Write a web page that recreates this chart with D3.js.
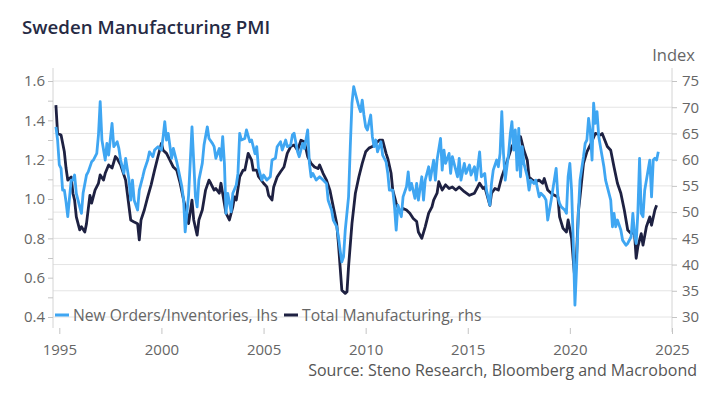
<!DOCTYPE html>
<html>
<head>
<meta charset="utf-8">
<script src="https://cdn.jsdelivr.net/npm/d3@7"></script>
<style>
  body { margin: 0; background: #fff; }
  svg { font-family: "Open Sans", "Noto Sans", sans-serif; }
</style>
</head>
<body>
<svg id="chart" width="717" height="395"></svg>
<script>
// New Orders/Inventories ratio (lhs)
const newOrdersInv = [
  ["1994-11",1.367],["1994-12",1.30],["1995-01",1.173],["1995-02",1.156],["1995-03",1.045],["1995-04",1.045],
  ["1995-05",0.986],["1995-06",0.91],["1995-08",1.096],["1995-09",1.096],["1995-10",1.122],["1995-11",1.029],
  ["1996-01",0.96],["1996-02",0.927],["1996-03",1.029],["1996-05",1.122],["1996-06",1.138],["1996-08",1.189],
  ["1996-09",1.198],["1996-11",1.232],["1996-12",1.325],["1997-01",1.495],["1997-02",1.30],["1997-04",1.198],
  ["1997-05",1.283],["1997-06",1.223],["1997-08",1.385],["1997-09",1.266],["1997-11",1.291],["1997-12",1.257],
  ["1998-01",1.198],["1998-03",1.13],["1998-04",1.207],["1998-06",1.096],["1998-07",0.994],["1998-08",1.096],
  ["1998-09",0.994],["1998-11",0.944],["1998-12",1.045],["1999-02",1.113],["1999-03",1.147],["1999-05",1.198],
  ["1999-06",1.24],["1999-08",1.215],["1999-09",1.249],["1999-11",1.266],["2000-01",1.249],["2000-02",1.317],
  ["2000-03",1.393],["2000-04",1.30],["2000-05",1.334],["2000-07",1.207],["2000-08",1.257],["2000-10",1.189],
  ["2000-11",1.147],["2001-01",1.062],["2001-02",0.994],["2001-03",0.833],["2001-04",0.927],["2001-05",1.02],
  ["2001-07",1.367],["2001-09",1.011],["2001-10",0.96],["2001-11",1.096],["2002-01",1.181],["2002-02",1.274],
  ["2002-04",1.367],["2002-05",1.308],["2002-07",1.283],["2002-08",1.266],["2002-09",1.207],["2002-11",1.257],
  ["2002-12",1.198],["2003-01",1.317],["2003-02",1.181],["2003-03",0.927],["2003-04",1.029],["2003-06",0.935],
  ["2003-07",1.029],["2003-09",1.071],["2003-10",1.13],["2003-11",1.334],["2003-12",1.30],["2004-02",1.308],
  ["2004-03",1.351],["2004-05",1.291],["2004-06",1.30],["2004-08",1.23],["2004-09",1.266],["2004-10",1.16],
  ["2004-12",1.096],["2005-01",1.122],["2005-03",1.096],["2005-05",1.113],["2005-06",1.198],["2005-08",1.207],
  ["2005-09",1.266],["2005-11",1.291],["2005-12",1.249],["2006-02",1.30],["2006-03",1.266],["2006-05",1.274],
  ["2006-06",1.325],["2006-07",1.334],["2006-09",1.24],["2006-10",1.215],["2006-12",1.283],["2007-01",1.257],
  ["2007-03",1.351],["2007-04",1.181],["2007-05",1.113],["2007-06",1.13],["2007-08",1.096],["2007-10",1.113],
  ["2007-12",1.096],["2008-02",1.079],["2008-03",0.994],["2008-05",0.944],["2008-06",0.893],["2008-08",0.859],
  ["2008-09",0.808],["2008-10",0.74],["2008-11",0.68],["2008-12",0.706],["2009-01",0.842],["2009-03",1.011],
  ["2009-04",1.266],["2009-05",1.487],["2009-06",1.571],["2009-07",1.537],["2009-09",1.469],["2009-10",1.444],
  ["2009-11",1.503],["2009-12",1.427],["2010-01",1.367],["2010-02",1.351],["2010-04",1.427],["2010-05",1.317],
  ["2010-06",1.266],["2010-07",1.30],["2010-08",1.24],["2010-10",1.291],["2010-11",1.223],["2011-01",1.189],
  ["2011-02",1.13],["2011-03",1.045],["2011-05",1.045],["2011-06",0.96],["2011-07",0.842],["2011-08",0.969],
  ["2011-10",0.91],["2011-11",1.011],["2012-01",1.062],["2012-02",1.138],["2012-03",1.045],["2012-04",1.079],
  ["2012-06",1.003],["2012-07",1.079],["2012-08",0.994],["2012-10",1.113],["2012-11",0.994],["2012-12",1.096],
  ["2013-02",1.164],["2013-03",1.096],["2013-05",1.198],["2013-06",1.096],["2013-07",1.198],["2013-09",1.308],
  ["2013-10",1.147],["2013-11",1.249],["2013-12",1.181],["2014-02",1.232],["2014-03",1.13],["2014-04",1.215],
  ["2014-06",1.147],["2014-07",1.113],["2014-08",1.207],["2014-09",1.096],["2014-11",1.181],["2014-12",1.13],
  ["2015-02",1.173],["2015-03",1.122],["2015-05",1.164],["2015-06",1.096],["2015-08",1.24],["2015-09",1.113],
  ["2015-11",1.13],["2015-12",1.045],["2016-02",0.969],["2016-03",1.079],["2016-04",1.147],["2016-06",1.198],
  ["2016-07",1.164],["2016-08",1.232],["2016-09",1.444],["2016-10",1.232],["2016-11",1.096],["2017-01",1.232],
  ["2017-02",1.334],["2017-03",1.393],["2017-04",1.249],["2017-05",1.351],["2017-06",1.147],["2017-07",1.359],
  ["2017-08",1.113],["2017-09",1.266],["2017-10",1.181],["2017-12",1.113],["2018-01",1.045],["2018-02",1.096],
  ["2018-04",1.079],["2018-05",1.096],["2018-07",1.011],["2018-08",1.029],["2018-10",1.011],["2018-11",0.994],
  ["2018-12",0.893],["2019-02",0.994],["2019-03",1.045],["2019-05",1.156],["2019-06",1.011],["2019-07",0.978],
  ["2019-08",0.96],["2019-10",0.944],["2019-11",0.927],["2019-12",1.113],["2020-01",1.181],["2020-02",1.045],
  ["2020-03",0.791],["2020-04",0.46],["2020-05",0.655],["2020-06",0.927],["2020-07",1.096],["2020-09",1.215],
  ["2020-10",1.283],["2020-11",1.30],["2020-12",1.41],["2021-01",1.342],["2021-02",1.198],["2021-03",1.487],
  ["2021-04",1.385],["2021-05",1.444],["2021-06",1.317],["2021-08",1.215],["2021-09",1.164],["2021-10",1.096],
  ["2021-11",1.062],["2022-01",0.994],["2022-02",0.859],["2022-03",0.927],["2022-04",0.859],["2022-05",0.893],
  ["2022-07",0.842],["2022-08",0.791],["2022-10",0.765],["2022-11",0.774],["2023-01",0.808],["2023-02",0.927],
  ["2023-03",0.825],["2023-04",0.774],["2023-05",0.927],["2023-06",1.207],["2023-07",0.927],["2023-08",0.91],
  ["2023-09",1.045],["2023-11",1.147],["2023-12",1.198],["2024-01",1.011],["2024-02",1.198],["2024-03",1.207],
  ["2024-04",1.198],["2024-05",1.24]
];

// Total Manufacturing PMI (rhs)
const totalMfg = [
  ["1994-11",70.4],["1994-12",65.0],["1995-02",64.7],["1995-04",61.5],["1995-05",58.4],["1995-06",56.1],
  ["1995-08",56.7],["1995-09",53.6],["1995-10",52.3],["1995-11",49.1],["1996-01",46.6],["1996-02",47.2],
  ["1996-04",46.2],["1996-05",47.8],["1996-07",53.2],["1996-08",51.7],["1996-10",54.2],["1996-12",55.5],
  ["1997-01",57.1],["1997-03",56.1],["1997-04",57.4],["1997-06",59.0],["1997-08",58.4],["1997-10",60.6],
  ["1997-11",60.2],["1998-01",59.0],["1998-03",57.1],["1998-04",56.1],["1998-07",48.5],["1998-09",48.1],
  ["1998-11",47.8],["1998-12",44.7],["1999-01",48.5],["1999-03",50.4],["1999-05",52.9],["1999-07",55.2],
  ["1999-09",58.0],["1999-11",60.6],["2000-01",63.1],["2000-02",61.8],["2000-04",61.2],["2000-06",59.9],
  ["2000-08",58.6],["2000-10",58.0],["2000-12",55.5],["2001-02",52.3],["2001-04",49.8],["2001-05",47.8],
  ["2001-07",52.3],["2001-08",48.5],["2001-10",45.6],["2001-11",48.5],["2002-01",50.4],["2002-03",54.2],
  ["2002-05",56.1],["2002-06",55.5],["2002-08",54.2],["2002-09",54.5],["2002-11",53.6],["2002-12",55.5],
  ["2003-03",49.8],["2003-05",48.5],["2003-07",51.0],["2003-08",52.9],["2003-09",52.3],["2003-11",56.7],
  ["2004-01",58.0],["2004-02",58.0],["2004-04",61.2],["2004-06",59.9],["2004-07",58.0],["2004-09",58.0],
  ["2004-10",56.8],["2005-01",55.5],["2005-03",54.8],["2005-04",53.2],["2005-06",52.3],["2005-07",54.8],
  ["2005-09",56.7],["2005-11",57.7],["2006-01",58.6],["2006-03",61.2],["2006-05",62.5],["2006-07",62.8],
  ["2006-09",61.8],["2006-11",63.7],["2007-01",63.4],["2007-03",60.6],["2007-05",59.3],["2007-07",58.6],
  ["2007-09",58.3],["2007-10",59.0],["2007-12",57.4],["2008-02",56.1],["2008-04",54.2],["2008-06",51.0],
  ["2008-08",47.8],["2008-09",44.0],["2008-10",39.6],["2008-11",35.1],["2009-01",34.5],["2009-02",34.8],
  ["2009-03",39.6],["2009-05",47.8],["2009-07",53.6],["2009-09",56.7],["2009-11",59.3],["2010-01",61.5],
  ["2010-03",62.2],["2010-05",62.5],["2010-09",63.7],["2010-11",63.7],["2011-01",61.2],["2011-02",60.2],
  ["2011-04",57.4],["2011-05",54.2],["2011-07",51.7],["2011-09",50.1],["2011-11",50.7],["2012-01",50.4],
  ["2012-03",49.8],["2012-05",48.8],["2012-07",48.2],["2012-08",46.2],["2012-10",45.0],["2012-12",47.2],
  ["2013-02",49.8],["2013-04",51.0],["2013-05",52.3],["2013-07",53.6],["2013-08",55.8],["2013-10",54.2],
  ["2013-12",55.2],["2014-02",54.5],["2014-04",54.8],["2014-06",54.2],["2014-08",54.8],["2014-11",53.9],
  ["2015-02",53.2],["2015-05",53.6],["2015-08",55.5],["2015-10",54.5],["2015-11",54.8],["2016-02",51.3],
  ["2016-03",53.6],["2016-05",54.5],["2016-07",54.2],["2016-09",56.7],["2016-11",58.6],["2017-01",60.6],
  ["2017-03",62.5],["2017-06",64.1],["2017-08",64.4],["2017-10",61.8],["2017-12",59.9],["2018-01",56.7],
  ["2018-03",56.1],["2018-05",55.8],["2018-07",56.1],["2018-09",55.5],["2018-10",56.4],["2018-12",54.2],
  ["2019-02",53.6],["2019-04",53.2],["2019-06",52.9],["2019-07",49.1],["2019-09",46.9],["2019-11",46.2],
  ["2019-12",48.5],["2020-02",45.0],["2020-03",41.0],["2020-04",37.0],["2020-05",42.0],["2020-06",50.0],
  ["2020-07",52.9],["2020-09",59.3],["2020-11",61.5],["2021-01",62.8],["2021-04",65.0],["2021-07",64.7],
  ["2021-08",65.0],["2021-11",62.5],["2022-01",61.8],["2022-03",58.6],["2022-05",55.5],["2022-07",53.6],
  ["2022-09",50.4],["2022-11",46.6],["2023-01",45.9],["2023-03",46.2],["2023-04",41.2],["2023-05",43.4],
  ["2023-07",45.9],["2023-08",43.7],["2023-10",47.2],["2023-12",49.1],["2024-01",47.5],["2024-03",50.4],
  ["2024-04",51.3]
];

const yearTicks = [1995, 2000, 2005, 2010, 2015, 2020, 2025];
const lhsTicks = [0.4, 0.6, 0.8, 1.0, 1.2, 1.4, 1.6];
const lhsMinor = [0.5, 0.7, 0.9, 1.1, 1.3, 1.5];
const rhsTicks = [30, 35, 40, 45, 50, 55, 60, 65, 70, 75];

const blue = '#3fa6f2';
const navy = '#1e2142';
const textGrey = '#666666';

const svg = d3.select('#chart');
const parse = d3.timeParse('%Y-%m');

let plotLeft = 53, plotRight = 672, plotTop = 81, plotBottom = 317;

let x = d3.scaleTime()
    .domain([new Date(1994, 8, 10), new Date(2025, 0, 1)])
    .range([plotLeft, plotRight]);
let yL = d3.scaleLinear().domain([0.4, 1.6]).range([plotBottom, plotTop]);
let yR = d3.scaleLinear().domain([30, 75]).range([plotBottom, plotTop]);

// title
svg.append('text')
    .attr('x', 22).attr('y', 34)
    .attr('font-size', 18.7).attr('font-weight', 600)
    .attr('fill', '#262a44')
    .text('Sweden Manufacturing PMI');

svg.append('text')
    .attr('x', 695).attr('y', 61)
    .attr('text-anchor', 'end')
    .attr('font-size', 16.5).attr('fill', textGrey)
    .text('Index');

// gridlines (rhs)
svg.append('g')
    .selectAll('line')
    .data(rhsTicks)
    .enter().append('line')
    .attr('x1', plotLeft).attr('x2', plotRight)
    .attr('y1', d => yR(d)).attr('y2', d => yR(d))
    .attr('stroke', '#e4e4e4').attr('stroke-width', 1);

// axis lines
svg.append('line').attr('x1', plotLeft).attr('x2', plotLeft).attr('y1', 68).attr('y2', 328)
    .attr('stroke', '#d4d4d4');
svg.append('line').attr('x1', plotRight).attr('x2', plotRight).attr('y1', 68).attr('y2', 332)
    .attr('stroke', '#d4d4d4');

function styleAxis(g) {
    g.select('.domain').remove();
    g.selectAll('.tick line').attr('stroke', '#c4c4c4');
    g.selectAll('.tick text')
        .attr('fill', textGrey)
        .attr('font-size', 15)
        .attr('font-family', '"Open Sans", "Noto Sans", sans-serif');
}

// left axis
svg.append('g')
    .attr('transform', `translate(${plotLeft}, 0)`)
    .call(d3.axisLeft(yL).tickValues(lhsMinor).tickSize(5).tickFormat(''))
    .call(styleAxis);
svg.append('g')
    .attr('transform', `translate(${plotLeft}, 0)`)
    .call(d3.axisLeft(yL).tickValues(lhsTicks).tickSize(5).tickPadding(3).tickFormat(d3.format('.1f')))
    .call(styleAxis);

// right axis
svg.append('g')
    .attr('transform', `translate(${plotRight}, 0)`)
    .call(d3.axisRight(yR).tickValues(rhsTicks).tickSize(5).tickPadding(5))
    .call(styleAxis);

// x axis
svg.append('g')
    .attr('transform', `translate(0, 328)`)
    .call(d3.axisBottom(x).tickValues(yearTicks.map(y => new Date(y, 0, 1)))
        .tickSize(6).tickPadding(10).tickFormat(d3.timeFormat('%Y')))
    .call(styleAxis);

// lines
let lineR = d3.line().x(d => x(parse(d[0]))).y(d => yR(d[1]));
let lineL = d3.line().x(d => x(parse(d[0]))).y(d => yL(d[1]));

svg.append('path')
    .datum(totalMfg)
    .attr('d', lineR)
    .attr('fill', 'none').attr('stroke', navy)
    .attr('stroke-width', 2.8).attr('stroke-linejoin', 'round');

svg.append('path')
    .datum(newOrdersInv)
    .attr('d', lineL)
    .attr('fill', 'none').attr('stroke', blue)
    .attr('stroke-width', 2.8).attr('stroke-linejoin', 'round');

// legend
let legend = svg.append('g').attr('transform', 'translate(0, 315)');
legend.append('line').attr('x1', 55).attr('x2', 69).attr('stroke', blue).attr('stroke-width', 3);
legend.append('text').attr('x', 73).attr('dy', '0.35em')
    .attr('font-size', 15.7).attr('fill', textGrey)
    .text('New Orders/Inventories, lhs');
legend.append('line').attr('x1', 284).attr('x2', 298).attr('stroke', navy).attr('stroke-width', 3);
legend.append('text').attr('x', 302).attr('dy', '0.35em')
    .attr('font-size', 15.7).attr('fill', textGrey)
    .text('Total Manufacturing, rhs');

// source
svg.append('text')
    .attr('x', 697).attr('y', 376)
    .attr('text-anchor', 'end')
    .attr('font-size', 16).attr('fill', '#555555')
    .text('Source: Steno Research, Bloomberg and Macrobond');
</script>
</body>
</html>
